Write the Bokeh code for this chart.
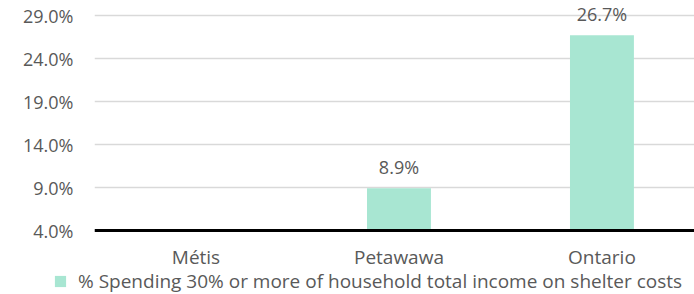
from bokeh.plotting import figure
from bokeh.layouts import column
from bokeh.models import Range1d, FixedTicker, PrintfTickFormatter, Legend, LegendItem, ColumnDataSource, Span
from bokeh.core.properties import value
from bokeh.embed import file_html
from bokeh.resources import INLINE
import math

categories = ["Métis", "Petawawa", "Ontario"]
shelter_pct = [float("nan"), 8.9, 26.7]
y_ticks = [4.0, 9.0, 14.0, 19.0, 24.0, 29.0]
series_name = "% Spending 30% or more of household total income on shelter costs"

FONT = "Open Sans"
TXT = "#595959"
BAR = "#A8E6D2"
PX_PER_PCT = 8.6

base = y_ticks[0]
xs = [i + 0.5 for i in range(len(categories))]
labels = ["" if math.isnan(v) else f"{v:.1f}%" for v in shelter_pct]
src = ColumnDataSource(dict(x=xs, top=shelter_pct, lab=labels, cat=categories,
                            base=[base] * len(categories)))

p = figure(width=694, height=268, output_backend="svg", toolbar_location=None,
           x_axis_location=None,
           x_range=Range1d(0, 2.956),
           y_range=Range1d(base - 38 / PX_PER_PCT, base + 230 / PX_PER_PCT),
           min_border_left=94, min_border_right=0, min_border_top=0, min_border_bottom=0)
p.frame_align = False
p.outline_line_color = None
p.background_fill_color = "white"

r = p.vbar(x="x", top="top", bottom=base, width=0.315, source=src,
           fill_color=BAR, line_color=None)
p.text(x="x", y="top", text="lab", source=src, text_align="center", text_baseline="bottom",
       y_offset=-9, text_font=value(FONT), text_font_size="18px", text_color=TXT)
# category labels under the baseline
p.text(x="x", y="base", text="cat", source=src, text_align="center", text_baseline="middle",
       y_offset=26, text_font=value(FONT), text_font_size="19px", text_color=TXT)

p.add_layout(Span(location=base, dimension="width", line_color="black", line_width=3))

p.yaxis.ticker = FixedTicker(ticks=y_ticks)
p.yaxis.formatter = PrintfTickFormatter(format="%.1f%%")
p.yaxis.axis_line_color = None
p.yaxis.major_tick_line_color = None
p.yaxis.minor_tick_line_color = None
p.yaxis.major_tick_out = 0
p.yaxis.major_label_standoff = 21
p.yaxis.major_label_text_font = FONT
p.yaxis.major_label_text_font_size = "18px"
p.yaxis.major_label_text_color = TXT

p.xgrid.grid_line_color = None
p.ygrid.ticker = FixedTicker(ticks=y_ticks)
p.ygrid.grid_line_color = "#D9D9D9"
p.ygrid.grid_line_width = 1.5

# legend strip below the chart
lf = figure(width=694, height=26, output_backend="svg", toolbar_location=None,
            x_axis_location=None, y_axis_location=None,
            x_range=Range1d(0, 1), y_range=Range1d(0, 1),
            min_border_left=0, min_border_right=0, min_border_top=0, min_border_bottom=0)
lf.frame_align = False
lf.outline_line_color = None
lf.xgrid.grid_line_color = None
lf.ygrid.grid_line_color = None
lr = lf.vbar(x=[float("nan")], top=[float("nan")], width=0.3, fill_color=BAR, line_color=None)

legend = Legend(items=[LegendItem(label=series_name, renderers=[lr])],
                location=(53, 0), orientation="horizontal",
                border_line_color=None, background_fill_alpha=0,
                padding=0, margin=0, spacing=0,
                glyph_width=14, glyph_height=14, label_standoff=11,
                label_text_font=FONT, label_text_font_size="19px", label_text_color=TXT)
lf.add_layout(legend, "center")

layout = column(p, lf, spacing=0)
open("out.html", "w").write(file_html(layout, INLINE))
